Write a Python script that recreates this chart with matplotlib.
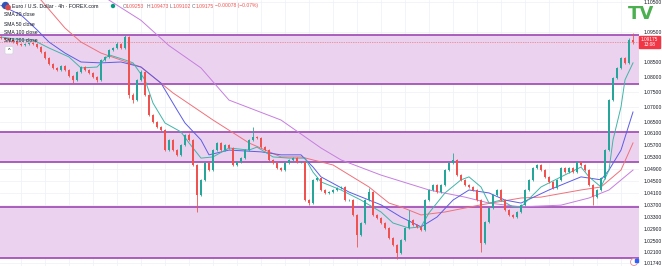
import matplotlib
matplotlib.use("Agg")
import matplotlib.pyplot as plt
from matplotlib.patches import Rectangle, Circle, FancyBboxPatch
import numpy as np

# ---------------- data ----------------
opens = [
    1.0935, 1.0931, 1.0927, 1.0924, 1.0917, 1.0911, 1.0907, 1.0911, 1.0914, 1.0911,
    1.0900, 1.0884, 1.0864, 1.0843, 1.0830, 1.0823, 1.0837, 1.0823, 1.0803, 1.0790,
    1.0816, 1.0833, 1.0823, 1.0813, 1.0800, 1.0790, 1.0857, 1.0867, 1.0890, 1.0897,
    1.0911, 1.0897, 1.0934, 1.0739, 1.0722, 1.0790, 1.0816, 1.0739, 1.0672, 1.0648,
    1.0632, 1.0622, 1.0554, 1.0588, 1.0554, 1.0538, 1.0571, 1.0605, 1.0588, 1.0504,
    1.0403, 1.0454, 1.0511, 1.0487, 1.0554, 1.0578, 1.0554, 1.0571, 1.0561, 1.0504,
    1.0514, 1.0528, 1.0554, 1.0588, 1.0598, 1.0595, 1.0564, 1.0554, 1.0521, 1.0511,
    1.0494, 1.0487, 1.0511, 1.0521, 1.0528, 1.0514, 1.0514, 1.0386, 1.0376, 1.0454,
    1.0460, 1.0420, 1.0410, 1.0413, 1.0420, 1.0427, 1.0430, 1.0386, 1.0386, 1.0336,
    1.0269, 1.0309, 1.0386, 1.0413, 1.0336, 1.0326, 1.0309, 1.0293, 1.0259, 1.0235,
    1.0208, 1.0252, 1.0293, 1.0319, 1.0302, 1.0296, 1.0286, 1.0386, 1.0420, 1.0437,
    1.0413, 1.0437, 1.0487, 1.0511, 1.0521, 1.0470, 1.0454, 1.0437, 1.0430, 1.0420,
    1.0386, 1.0242, 1.0312, 1.0360, 1.0403, 1.0420, 1.0386, 1.0353, 1.0336, 1.0329,
    1.0346, 1.0370, 1.0420, 1.0454, 1.0494, 1.0504, 1.0487, 1.0464, 1.0447, 1.0427,
    1.0454, 1.0494, 1.0480, 1.0494, 1.0480, 1.0514, 1.0504, 1.0487, 1.0437, 1.0396,
    1.0420, 1.0460, 1.0554, 1.0722, 1.0796, 1.0830, 1.0863, 1.0847, 1.0925,
]
closes = [
    1.0931, 1.0927, 1.0924, 1.0917, 1.0911, 1.0907, 1.0911, 1.0914, 1.0911, 1.0900,
    1.0884, 1.0864, 1.0843, 1.0830, 1.0823, 1.0837, 1.0823, 1.0803, 1.0790, 1.0816,
    1.0833, 1.0823, 1.0813, 1.0800, 1.0790, 1.0857, 1.0867, 1.0890, 1.0897, 1.0911,
    1.0897, 1.0934, 1.0739, 1.0722, 1.0790, 1.0816, 1.0739, 1.0672, 1.0648, 1.0632,
    1.0622, 1.0554, 1.0588, 1.0554, 1.0538, 1.0571, 1.0605, 1.0588, 1.0504, 1.0403,
    1.0454, 1.0511, 1.0487, 1.0554, 1.0578, 1.0554, 1.0571, 1.0561, 1.0504, 1.0514,
    1.0528, 1.0554, 1.0588, 1.0598, 1.0595, 1.0564, 1.0554, 1.0521, 1.0511, 1.0494,
    1.0487, 1.0511, 1.0521, 1.0528, 1.0514, 1.0514, 1.0386, 1.0376, 1.0454, 1.0460,
    1.0420, 1.0410, 1.0413, 1.0420, 1.0427, 1.0430, 1.0386, 1.0386, 1.0336, 1.0269,
    1.0309, 1.0386, 1.0413, 1.0336, 1.0326, 1.0309, 1.0293, 1.0259, 1.0235, 1.0208,
    1.0252, 1.0293, 1.0319, 1.0302, 1.0296, 1.0286, 1.0386, 1.0420, 1.0437, 1.0413,
    1.0437, 1.0487, 1.0511, 1.0521, 1.0470, 1.0454, 1.0437, 1.0430, 1.0420, 1.0386,
    1.0242, 1.0312, 1.0360, 1.0403, 1.0420, 1.0386, 1.0353, 1.0336, 1.0329, 1.0346,
    1.0370, 1.0420, 1.0454, 1.0494, 1.0504, 1.0487, 1.0464, 1.0447, 1.0427, 1.0454,
    1.0494, 1.0480, 1.0494, 1.0480, 1.0514, 1.0504, 1.0487, 1.0437, 1.0396, 1.0420,
    1.0460, 1.0554, 1.0722, 1.0796, 1.0830, 1.0863, 1.0847, 1.0925, 1.09175,
]
highs = [
    1.0939, 1.0935, 1.0931, 1.0928, 1.0921, 1.0915, 1.0915, 1.0918, 1.0918, 1.0915,
    1.0904, 1.0888, 1.0868, 1.0847, 1.0834, 1.0841, 1.0841, 1.0827, 1.0807, 1.0820,
    1.0837, 1.0837, 1.0827, 1.0817, 1.0804, 1.0861, 1.0871, 1.0894, 1.0901, 1.0918,
    1.0915, 1.0942, 1.0938, 1.0745, 1.0794, 1.0822, 1.0820, 1.0743, 1.0676, 1.0652,
    1.0636, 1.0626, 1.0592, 1.0592, 1.0558, 1.0575, 1.0609, 1.0612, 1.0592, 1.0508,
    1.0458, 1.0515, 1.0515, 1.0558, 1.0582, 1.0582, 1.0575, 1.0575, 1.0565, 1.0518,
    1.0532, 1.0558, 1.0592, 1.0630, 1.0602, 1.0599, 1.0568, 1.0558, 1.0525, 1.0515,
    1.0498, 1.0515, 1.0525, 1.0532, 1.0532, 1.0518, 1.0518, 1.0390, 1.0458, 1.0464,
    1.0464, 1.0424, 1.0417, 1.0424, 1.0431, 1.0434, 1.0434, 1.0390, 1.0390, 1.0340,
    1.0313, 1.0390, 1.0427, 1.0417, 1.0340, 1.0330, 1.0313, 1.0297, 1.0263, 1.0239,
    1.0256, 1.0297, 1.0353, 1.0323, 1.0306, 1.0300, 1.0390, 1.0424, 1.0441, 1.0441,
    1.0441, 1.0491, 1.0515, 1.0544, 1.0525, 1.0474, 1.0458, 1.0441, 1.0434, 1.0424,
    1.0390, 1.0316, 1.0364, 1.0407, 1.0424, 1.0424, 1.0390, 1.0357, 1.0340, 1.0350,
    1.0374, 1.0424, 1.0458, 1.0498, 1.0508, 1.0508, 1.0491, 1.0468, 1.0451, 1.0458,
    1.0498, 1.0498, 1.0498, 1.0498, 1.0518, 1.0518, 1.0508, 1.0491, 1.0441, 1.0424,
    1.0464, 1.0558, 1.0726, 1.0800, 1.0834, 1.0867, 1.0867, 1.0929, 1.09473,
]
lows = [
    1.0927, 1.0923, 1.0920, 1.0913, 1.0907, 1.0903, 1.0903, 1.0907, 1.0907, 1.0896,
    1.0880, 1.0860, 1.0839, 1.0826, 1.0819, 1.0819, 1.0819, 1.0799, 1.0780, 1.0786,
    1.0812, 1.0819, 1.0809, 1.0796, 1.0782, 1.0786, 1.0853, 1.0863, 1.0886, 1.0893,
    1.0893, 1.0893, 1.0730, 1.0712, 1.0718, 1.0786, 1.0735, 1.0668, 1.0644, 1.0628,
    1.0618, 1.0550, 1.0550, 1.0550, 1.0534, 1.0534, 1.0567, 1.0584, 1.0500, 1.0345,
    1.0399, 1.0450, 1.0483, 1.0483, 1.0550, 1.0550, 1.0550, 1.0557, 1.0500, 1.0500,
    1.0510, 1.0524, 1.0550, 1.0584, 1.0591, 1.0560, 1.0550, 1.0517, 1.0507, 1.0490,
    1.0483, 1.0483, 1.0507, 1.0517, 1.0510, 1.0510, 1.0382, 1.0368, 1.0372, 1.0450,
    1.0416, 1.0406, 1.0406, 1.0409, 1.0416, 1.0423, 1.0382, 1.0382, 1.0332, 1.0228,
    1.0265, 1.0305, 1.0382, 1.0332, 1.0322, 1.0305, 1.0289, 1.0255, 1.0231, 1.0188,
    1.0204, 1.0248, 1.0289, 1.0298, 1.0292, 1.0282, 1.0282, 1.0382, 1.0416, 1.0409,
    1.0409, 1.0433, 1.0483, 1.0507, 1.0466, 1.0450, 1.0433, 1.0426, 1.0416, 1.0382,
    1.0212, 1.0238, 1.0308, 1.0356, 1.0399, 1.0382, 1.0349, 1.0332, 1.0325, 1.0325,
    1.0342, 1.0366, 1.0416, 1.0450, 1.0490, 1.0483, 1.0460, 1.0443, 1.0423, 1.0423,
    1.0450, 1.0476, 1.0476, 1.0476, 1.0476, 1.0500, 1.0483, 1.0433, 1.0369, 1.0392,
    1.0416, 1.0456, 1.0550, 1.0718, 1.0792, 1.0826, 1.0843, 1.0843, 1.09102,
]

# moving averages (candle index, value)
sma20_idx = [0, 5, 8, 12, 17, 20, 24, 27, 31, 33, 36, 38, 41, 45, 47, 50, 53, 57, 62, 64,
             68, 72, 76, 78, 80, 85, 90, 95, 98, 102, 105, 107, 111, 115, 117, 120, 122,
             125, 128, 130, 135, 140, 145, 147, 150, 152, 153, 155, 156, 158]
sma20_val = [1.0934, 1.0924, 1.0924, 1.0897, 1.0867, 1.0830, 1.0833, 1.0874, 1.0857, 1.0847,
             1.0790, 1.0712, 1.0645, 1.0615, 1.0578, 1.0527, 1.0531, 1.0561, 1.0554, 1.0564,
             1.0531, 1.0527, 1.0527, 1.0480, 1.0447, 1.0420, 1.0386, 1.0346, 1.0309, 1.0292,
             1.0296, 1.0343, 1.0410, 1.0454, 1.0464, 1.0430, 1.0376, 1.0386, 1.0363, 1.0363,
             1.0430, 1.0464, 1.0497, 1.0464, 1.0430, 1.0487, 1.0588, 1.0699, 1.0790, 1.0847]

sma50_idx = [0, 5, 9, 12, 16, 20, 25, 30, 35, 40, 44, 46, 50, 52, 57, 65, 70, 75, 78, 80,
             87, 95, 100, 105, 109, 113, 117, 122, 126, 130, 137, 145, 150, 152, 155, 158]
sma50_val = [1.1040, 1.1008, 1.0958, 1.0917, 1.0880, 1.0850, 1.0847, 1.0850, 1.0833, 1.0779,
             1.0689, 1.0645, 1.0588, 1.0538, 1.0554, 1.0548, 1.0538, 1.0538, 1.0497, 1.0464,
             1.0413, 1.0370, 1.0329, 1.0296, 1.0329, 1.0386, 1.0420, 1.0410, 1.0386, 1.0376,
             1.0420, 1.0464, 1.0454, 1.0487, 1.0554, 1.0682]

sma100_idx = [6, 10, 16, 20, 25, 35, 43, 53, 62, 70, 75, 83, 92, 97, 100, 105, 111, 120,
              130, 135, 145, 150, 155, 158]
sma100_val = [1.1100, 1.1058, 1.0964, 1.0917, 1.0880, 1.0833, 1.0746, 1.0655, 1.0578, 1.0531,
              1.0531, 1.0504, 1.0430, 1.0376, 1.0363, 1.0336, 1.0346, 1.0370, 1.0393, 1.0396,
              1.0420, 1.0430, 1.0487, 1.0578]

sma200_idx = [24, 27, 35, 42, 50, 57, 70, 80, 85, 95, 107, 116, 122, 130, 140, 147, 152, 158]
sma200_val = [1.1090, 1.1058, 1.0990, 1.0905, 1.0830, 1.0722, 1.0655, 1.0561, 1.0521, 1.0470,
              1.0420, 1.0396, 1.0376, 1.0363, 1.0369, 1.0393, 1.0420, 1.0487]

zone_top = [1.0941, 1.0615, 1.0363]
zone_bottom = [1.0776, 1.0514, 1.0191]

price_ticks = [1.105, 1.095, 1.085, 1.080, 1.075, 1.070, 1.065, 1.061, 1.057, 1.053,
               1.049, 1.045, 1.041, 1.037, 1.033, 1.029, 1.025, 1.021, 1.0174]
last_price = 1.09175

# ---------------- drawing ----------------
W, H = 662, 266
FONT = "Liberation Sans"
UP, DN = "#26a69a", "#ef5350"

fig = plt.figure(figsize=(W / 100, H / 100), dpi=100)
fig.patch.set_facecolor("white")
ax = fig.add_axes([0, 0, 639 / W, 1])
ax.set_xlim(-0.25, 159.5)
ax.set_ylim(1.01645, 1.10583)
ax.set_facecolor("white")
for s in ax.spines.values():
    s.set_visible(False)

# grid
ax.set_xticks(np.arange(5, 160, 6))
ax.set_xticklabels([])
ax.tick_params(axis="x", length=0)
ax.set_yticks(price_ticks)
ax.set_yticklabels([f"{v:.5f}" for v in price_ticks])
ax.yaxis.tick_right()
ax.tick_params(axis="y", length=0, pad=3, labelsize=3.6, labelcolor="#131722")
for lab in ax.get_yticklabels():
    lab.set_fontfamily(FONT)
ax.grid(True, color="#eef0f6", lw=0.5, zorder=0)
ax.set_axisbelow(True)

# zones
for hi, lo in zip(zone_top, zone_bottom):
    ax.axhspan(lo, hi, color="#ebd3ef", zorder=1, lw=0)
    ax.axhline(hi, color="#a353b8", lw=1.3, zorder=2)
    ax.axhline(lo, color="#a353b8", lw=1.3, zorder=2)

# current price line
ax.axhline(last_price, color=DN, lw=0.5, ls=(0, (1, 1.5)), zorder=2)

# moving averages
ax.plot(sma200_idx, sma200_val, color="#c77de0", lw=0.7, zorder=3)
ax.plot(sma100_idx, sma100_val, color="#f0707a", lw=0.7, zorder=3)
ax.plot(sma50_idx, sma50_val, color="#5b5ce6", lw=0.7, zorder=3)
ax.plot(sma20_idx, sma20_val, color="#3fb5a8", lw=0.7, zorder=3)

# candles
o = np.array(opens); c = np.array(closes); h = np.array(highs); l = np.array(lows)
idx = np.arange(len(c))
cols = np.where(c >= o, UP, DN)
ax.vlines(idx, l, h, colors=cols, lw=0.6, zorder=4)
body_lo = np.minimum(o, c)
body_h = np.maximum(np.abs(c - o), 0.00006)
ax.bar(idx, body_h, bottom=body_lo, width=0.62, color=cols, lw=0, zorder=5)

# ---------------- overlay (legend, labels, logo) ----------------
ov = fig.add_axes([0, 0, 1, 1], zorder=10)
ov.set_xlim(0, W)
ov.set_ylim(H, 0)
ov.axis("off")
ov.patch.set_alpha(0)

# flag icon
ov.add_patch(Circle((5.5, 5.5), 3.0, color="#2f55b8", zorder=11))
ov.add_patch(Circle((8.0, 7.5), 2.2, color="#d94b4b", zorder=12))
ov.text(12, 6, "Euro / U.S. Dollar · 4h · FOREX.com", fontsize=3.8, family=FONT,
        color="#131722", va="center", ha="left")
ov.add_patch(Circle((113, 6), 1.5, color="#089981"))
parts = [("O", 123, "#6a6d78"), ("1.09253", 126, DN), ("H", 147, "#6a6d78"),
         ("1.09473", 150.5, DN), ("L", 170, "#6a6d78"), ("1.09102", 172.5, DN),
         ("C", 192, "#6a6d78"), ("1.09175", 195.5, DN), ("\u22120.00078 (\u22120.07%)", 215, DN)]
for txt, x, col in parts:
    ov.text(x, 6, txt, fontsize=3.6, family=FONT, color=col, va="center", ha="left")

for y, t in zip([15, 24, 33, 41], ["SMA 20 close", "SMA 50 close", "SMA 100 close", "SMA 200 close"]):
    ov.text(3.5, y, t, fontsize=3.6, family=FONT, color="#131722", va="center", ha="left")

ov.add_patch(FancyBboxPatch((5, 46.5), 8, 7.5, boxstyle="round,pad=0,rounding_size=1.2",
                            fc="white", ec="#d1d4dc", lw=0.5))
ov.text(9, 50.8, "^", fontsize=4, family=FONT, color="#131722", ha="center", va="center")

# price tag
ov.add_patch(Rectangle((639, 36), 21, 12, color="#f23645"))
ov.text(649.5, 39.3, "1.09175", fontsize=3.4, family=FONT, color="white", ha="center", va="center")
ov.text(649.5, 44.6, "13:08", fontsize=3.4, family=FONT, color="white", ha="center", va="center")

# logo
ov.text(641, 14, "TV", fontsize=13, family="DejaVu Sans", fontweight="bold",
        color="#4caf50", ha="center", va="center")

# bottom-right icon
ov.add_patch(Circle((634, 262), 3.5, fc="white", ec="#e08aa0", lw=0.6))
ov.add_patch(Rectangle((635, 258.5), 3, 3, color="#2962ff"))

fig.savefig("out.png", dpi=100)
